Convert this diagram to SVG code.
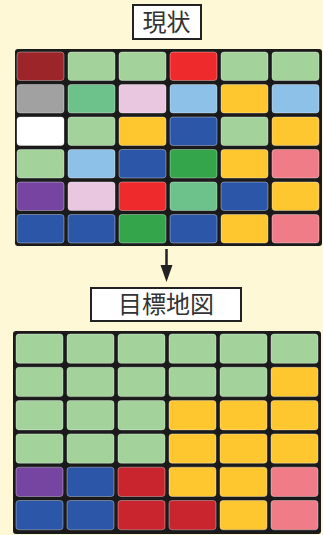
<svg xmlns="http://www.w3.org/2000/svg" width="323" height="535" viewBox="0 0 323 535">
<style>
.bg{fill:#FEF8D6}
.grid{fill:#1a1a1a}
.c{stroke:#ffffff;stroke-opacity:0.35;stroke-width:1}
.lg{fill:#A3D39B}.mg{fill:#6DC28C}.dg{fill:#35A54B}
.dr{fill:#9B2528}.rd{fill:#EE2A2C}.cr{fill:#C9252F}
.gy{fill:#A1A1A1}.pk{fill:#EAC7E1}.lb{fill:#8DC1E7}
.yl{fill:#FEC62F}.bl{fill:#2C57A9}.wh{fill:#FFFFFF}
.sm{fill:#F07C87}.pu{fill:#7545A1}
.lbl{fill:#fff;stroke:#222;stroke-width:2}
.t{font-family:"Noto Sans CJK JP","Noto Sans",sans-serif;font-size:24px;fill:#333;text-anchor:middle}
</style>
<rect class="bg" x="0" y="0" width="323" height="535"/>
<g id="title-current">
<rect class="lbl" x="133" y="5" width="68" height="34"/>
<text class="t" x="166.5" y="31">現状</text>
</g>
<g id="grid-current">
<rect class="grid" x="15" y="49" width="307" height="197" rx="3"/>
<g transform="translate(15,50)">
<rect class="c dr" x="2" y="2" width="47" height="28.5" rx="3"/>
<rect class="c lg" x="53" y="2" width="47" height="28.5" rx="3"/>
<rect class="c lg" x="104" y="2" width="47" height="28.5" rx="3"/>
<rect class="c rd" x="155" y="2" width="47" height="28.5" rx="3"/>
<rect class="c lg" x="206" y="2" width="47" height="28.5" rx="3"/>
<rect class="c lg" x="257" y="2" width="47" height="28.5" rx="3"/>

<rect class="c gy" x="2" y="34.5" width="47" height="28.5" rx="3"/>
<rect class="c mg" x="53" y="34.5" width="47" height="28.5" rx="3"/>
<rect class="c pk" x="104" y="34.5" width="47" height="28.5" rx="3"/>
<rect class="c lb" x="155" y="34.5" width="47" height="28.5" rx="3"/>
<rect class="c yl" x="206" y="34.5" width="47" height="28.5" rx="3"/>
<rect class="c lb" x="257" y="34.5" width="47" height="28.5" rx="3"/>

<rect class="c wh" x="2" y="67" width="47" height="28.5" rx="3"/>
<rect class="c lg" x="53" y="67" width="47" height="28.5" rx="3"/>
<rect class="c yl" x="104" y="67" width="47" height="28.5" rx="3"/>
<rect class="c bl" x="155" y="67" width="47" height="28.5" rx="3"/>
<rect class="c lg" x="206" y="67" width="47" height="28.5" rx="3"/>
<rect class="c yl" x="257" y="67" width="47" height="28.5" rx="3"/>

<rect class="c lg" x="2" y="99.5" width="47" height="28.5" rx="3"/>
<rect class="c lb" x="53" y="99.5" width="47" height="28.5" rx="3"/>
<rect class="c bl" x="104" y="99.5" width="47" height="28.5" rx="3"/>
<rect class="c dg" x="155" y="99.5" width="47" height="28.5" rx="3"/>
<rect class="c yl" x="206" y="99.5" width="47" height="28.5" rx="3"/>
<rect class="c sm" x="257" y="99.5" width="47" height="28.5" rx="3"/>

<rect class="c pu" x="2" y="132" width="47" height="28.5" rx="3"/>
<rect class="c pk" x="53" y="132" width="47" height="28.5" rx="3"/>
<rect class="c rd" x="104" y="132" width="47" height="28.5" rx="3"/>
<rect class="c mg" x="155" y="132" width="47" height="28.5" rx="3"/>
<rect class="c bl" x="206" y="132" width="47" height="28.5" rx="3"/>
<rect class="c yl" x="257" y="132" width="47" height="28.5" rx="3"/>

<rect class="c bl" x="2" y="164.5" width="47" height="28.5" rx="3"/>
<rect class="c bl" x="53" y="164.5" width="47" height="28.5" rx="3"/>
<rect class="c dg" x="104" y="164.5" width="47" height="28.5" rx="3"/>
<rect class="c bl" x="155" y="164.5" width="47" height="28.5" rx="3"/>
<rect class="c yl" x="206" y="164.5" width="47" height="28.5" rx="3"/>
<rect class="c sm" x="257" y="164.5" width="47" height="28.5" rx="3"/>
</g>
</g>
<g id="connectors">
<line x1="166.5" y1="249" x2="166.5" y2="268" stroke="#222" stroke-width="2.5"/>
<polygon points="160.5,265 172.5,265 166.5,282" fill="#222"/>
</g>
<g id="title-target">
<rect class="lbl" x="91" y="288" width="150" height="33"/>
<text class="t" x="166" y="313">目標地図</text>
</g>
<g id="grid-target">
<rect class="grid" x="13" y="331" width="308" height="203" rx="3"/>
<g transform="translate(14,332)">
<rect class="c lg" x="2" y="2" width="47" height="29.3" rx="3"/>
<rect class="c lg" x="53" y="2" width="47" height="29.3" rx="3"/>
<rect class="c lg" x="104" y="2" width="47" height="29.3" rx="3"/>
<rect class="c lg" x="155" y="2" width="47" height="29.3" rx="3"/>
<rect class="c lg" x="206" y="2" width="47" height="29.3" rx="3"/>
<rect class="c lg" x="257" y="2" width="47" height="29.3" rx="3"/>

<rect class="c lg" x="2" y="35.3" width="47" height="29.3" rx="3"/>
<rect class="c lg" x="53" y="35.3" width="47" height="29.3" rx="3"/>
<rect class="c lg" x="104" y="35.3" width="47" height="29.3" rx="3"/>
<rect class="c lg" x="155" y="35.3" width="47" height="29.3" rx="3"/>
<rect class="c lg" x="206" y="35.3" width="47" height="29.3" rx="3"/>
<rect class="c yl" x="257" y="35.3" width="47" height="29.3" rx="3"/>

<rect class="c lg" x="2" y="68.6" width="47" height="29.3" rx="3"/>
<rect class="c lg" x="53" y="68.6" width="47" height="29.3" rx="3"/>
<rect class="c lg" x="104" y="68.6" width="47" height="29.3" rx="3"/>
<rect class="c yl" x="155" y="68.6" width="47" height="29.3" rx="3"/>
<rect class="c yl" x="206" y="68.6" width="47" height="29.3" rx="3"/>
<rect class="c yl" x="257" y="68.6" width="47" height="29.3" rx="3"/>

<rect class="c lg" x="2" y="101.9" width="47" height="29.3" rx="3"/>
<rect class="c lg" x="53" y="101.9" width="47" height="29.3" rx="3"/>
<rect class="c lg" x="104" y="101.9" width="47" height="29.3" rx="3"/>
<rect class="c yl" x="155" y="101.9" width="47" height="29.3" rx="3"/>
<rect class="c yl" x="206" y="101.9" width="47" height="29.3" rx="3"/>
<rect class="c yl" x="257" y="101.9" width="47" height="29.3" rx="3"/>

<rect class="c pu" x="2" y="135.2" width="47" height="29.3" rx="3"/>
<rect class="c bl" x="53" y="135.2" width="47" height="29.3" rx="3"/>
<rect class="c cr" x="104" y="135.2" width="47" height="29.3" rx="3"/>
<rect class="c yl" x="155" y="135.2" width="47" height="29.3" rx="3"/>
<rect class="c yl" x="206" y="135.2" width="47" height="29.3" rx="3"/>
<rect class="c sm" x="257" y="135.2" width="47" height="29.3" rx="3"/>

<rect class="c bl" x="2" y="168.5" width="47" height="29.3" rx="3"/>
<rect class="c bl" x="53" y="168.5" width="47" height="29.3" rx="3"/>
<rect class="c cr" x="104" y="168.5" width="47" height="29.3" rx="3"/>
<rect class="c cr" x="155" y="168.5" width="47" height="29.3" rx="3"/>
<rect class="c yl" x="206" y="168.5" width="47" height="29.3" rx="3"/>
<rect class="c sm" x="257" y="168.5" width="47" height="29.3" rx="3"/>
</g>
</g>
</svg>
